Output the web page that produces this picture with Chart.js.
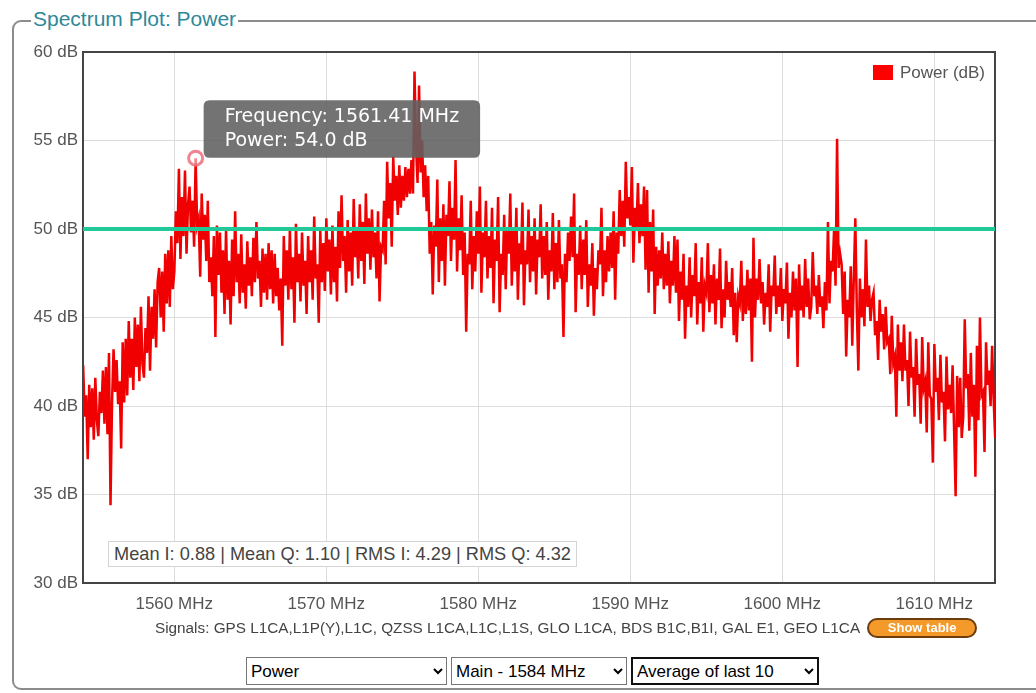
<!DOCTYPE html>
<html lang="en">
<head>
    <meta charset="UTF-8">
    <title>Spectrum Plot: Power</title>
    <style>
        body {
            margin: 0;
            background: #fff;
            font-family: "Liberation Sans", Arial, sans-serif;
            width: 1036px;
            height: 693px;
            overflow: hidden;
            position: relative;
        }

        .frame {
            position: absolute;
            left: 12px;
            top: 20px;
            width: 1060px;
            height: 666px;
            border: 2px solid #8c8c8c;
            border-radius: 9px;
        }

        .frame-title {
            position: absolute;
            left: 31px;
            top: 7px;
            padding: 0 2px;
            background: #fff;
            color: #2f8898;
            font-size: 21px;
        }

        #chart-box {
            position: absolute;
            left: 0;
            top: 0;
            width: 1010px;
            height: 620px;
        }

        .stats {
            position: absolute;
            left: 108px;
            top: 541px;
            height: 24px;
            line-height: 24px;
            padding: 0 5px;
            border: 1px solid #d4d4d4;
            background: #fff;
            color: #444;
            font-size: 18.2px;
        }

        .signals {
            position: absolute;
            left: 155px;
            top: 618px;
            color: #444;
            font-size: 15.3px;
            white-space: nowrap;
            display: flex;
            align-items: center;
        }

        .show-table {
            margin-left: 7px;
            width: 106px;
            text-align: center;
            background: #f39a2b;
            color: #fff;
            border: 2px solid #6b3d0c;
            border-radius: 10px;
            font-size: 13px;
            font-weight: bold;
            line-height: 16px;
        }

        .controls {
            position: absolute;
            left: 246px;
            top: 657px;
            display: flex;
            gap: 4px;
        }

        .controls select {
            height: 28px;
            font-family: "Liberation Sans", Arial, sans-serif;
            font-size: 17px;
            border: 1px solid #767676;
            background: #fff;
            color: #000;
        }
    </style>
</head>
<body>
<div class="frame"></div>
<div class="frame-title">Spectrum Plot: Power</div>
<div id="chart-box"><canvas id="spectrum"></canvas></div>
<div class="stats" id="stats"></div>
<div class="signals"><span id="signals"></span><span class="show-table">Show table</span></div>
<div class="controls">
    <select style="width:201px"><option>Power</option></select>
    <select style="width:176px"><option>Main - 1584 MHz</option></select>
    <select style="width:188px; border:2px solid #111"><option>Average of last 10</option></select>
</div>

<script src="https://cdn.jsdelivr.net/npm/chart.js"></script>
<script>
    // spectrum bins (MHz), 0.1 MHz apart
    const freqStart = 1554.01;
    const freqStep = 0.1;

    // power per bin in dB, one row per MHz
    const powerDb = [
        42.3, 39.4, 40.6, 37.0, 41.2, 38.8, 41.0, 38.1, 41.6, 39.2,
        38.3, 40.8, 39.6, 42.0, 39.0, 42.2, 38.4, 43.0, 34.4, 40.2,
        43.2, 40.8, 42.6, 40.1, 41.4, 37.6, 43.6, 40.2, 43.8, 40.6,
        44.8, 41.6, 43.8, 40.9, 45.0, 42.2, 44.6, 41.4, 45.6, 42.4,
        41.6, 44.4, 43.0, 46.2, 42.0, 45.6, 43.8, 46.6, 43.3, 47.0,
        47.8, 45.0, 47.6, 44.2, 48.6, 45.8, 48.8, 45.6, 49.6, 46.6,
        47.6, 51.0, 49.2, 53.4, 48.3, 51.8, 49.6, 53.3, 48.6, 51.4,
        52.4, 49.8, 51.6, 49.0, 54.0, 50.2, 50.6, 47.3, 52.0, 49.4,
        50.8, 48.2, 51.6, 47.0, 48.4, 46.2, 49.6, 43.9, 50.2, 47.4,
        49.8, 46.4, 48.8, 45.2, 50.0, 46.0, 48.2, 44.6, 49.4, 46.2,
        51.0, 47.0, 48.6, 45.8, 49.7, 46.4, 48.0, 45.5, 49.3, 46.8,
        48.4, 46.2, 49.5, 47.0, 50.4, 47.2, 48.2, 45.6, 48.9, 46.4,
        48.6, 46.0, 49.2, 46.6, 48.8, 45.8, 48.6, 46.2, 47.8, 45.4,
        47.2, 43.4, 49.6, 46.8, 48.8, 46.0, 50.0, 46.6, 48.4, 44.7,
        50.3, 47.0, 48.6, 45.9, 49.8, 46.8, 48.2, 45.2, 49.6, 47.0,
        48.8, 46.0, 50.7, 47.2, 48.0, 44.7, 49.9, 47.0, 49.2, 46.5,
        50.6, 47.6, 49.4, 46.3, 50.2, 47.0, 49.0, 45.9, 51.0, 47.8,
        51.9, 48.2, 49.6, 46.4, 50.5, 47.6, 49.8, 46.8, 51.7, 48.4,
        50.0, 47.2, 51.4, 48.2, 50.4, 46.9, 52.0, 48.6, 50.6, 47.7,
        51.1, 48.4, 49.8, 47.2, 51.0, 45.9, 49.0, 48.8, 51.6, 48.0,
        53.8, 50.6, 52.6, 49.0, 54.1, 51.6, 53.0, 50.8, 53.6, 51.2,
        53.0, 51.6, 53.5, 51.8, 53.4, 52.0, 53.9, 52.0, 58.9, 54.6,
        52.6, 58.1, 53.2, 55.0, 51.8, 53.6, 51.0, 53.0, 48.6, 50.4,
        46.3, 50.2, 49.0, 52.8, 47.0, 50.6, 48.2, 51.4, 46.8, 50.8,
        49.6, 52.7, 48.2, 51.2, 49.4, 53.9, 47.6, 50.6, 48.8, 51.9,
        47.4, 49.8, 44.2, 48.6, 48.0, 51.6, 46.6, 49.6, 47.6, 51.0,
        48.6, 52.4, 46.4, 49.8, 48.4, 51.6, 47.2, 49.6, 47.8, 51.2,
        45.8, 49.4, 48.2, 51.8, 45.3, 48.6, 47.4, 50.8, 46.6, 50.0,
        48.6, 52.0, 46.8, 50.0, 47.6, 51.2, 46.0, 49.2, 48.0, 51.5,
        45.7, 48.8, 48.0, 51.1, 47.0, 49.6, 47.6, 50.6, 46.3, 49.4,
        48.4, 51.4, 47.2, 49.6, 47.4, 50.4, 46.0, 48.8, 47.6, 50.9,
        46.6, 49.2, 47.0, 50.5, 47.2, 48.0, 43.9, 48.6, 47.0, 49.8,
        48.2, 50.7, 48.4, 52.0, 45.3, 48.6, 47.4, 50.2, 46.6, 49.4,
        47.4, 50.5, 45.6, 48.0, 46.8, 49.2, 45.1, 47.8, 46.6, 48.8,
        48.0, 51.2, 46.2, 48.8, 47.0, 49.6, 47.6, 49.8, 47.8, 51.0,
        46.0, 49.8, 48.6, 52.2, 49.6, 51.6, 49.0, 53.8, 50.6, 51.8,
        50.2, 53.5, 48.1, 51.2, 50.0, 52.6, 49.2, 51.4, 49.6, 52.4,
        47.7, 52.2, 46.4, 50.4, 47.6, 51.1, 45.2, 49.0, 46.8, 48.8,
        47.2, 49.8, 46.6, 48.6, 46.8, 49.3, 45.8, 48.2, 46.8, 49.6,
        46.4, 49.4, 44.8, 47.6, 46.0, 48.6, 43.8, 46.8, 45.6, 48.4,
        45.0, 47.4, 46.2, 49.2, 44.6, 47.0, 45.8, 48.4, 44.2, 46.8,
        46.4, 49.2, 45.3, 47.4, 45.8, 48.0, 44.6, 47.2, 46.0, 48.9,
        44.4, 46.6, 45.0, 48.2, 46.0, 47.0, 45.6, 47.8, 44.0, 46.4,
        43.6, 46.2, 45.8, 48.2, 44.8, 46.8, 45.2, 47.7, 45.4, 47.2,
        42.5, 49.5, 45.0, 47.2, 46.0, 48.3, 45.8, 47.0, 44.6, 46.4,
        45.6, 48.0, 44.2, 46.8, 46.2, 48.5, 45.2, 46.8, 45.6, 47.8,
        44.8, 46.6, 45.8, 48.1, 43.8, 46.4, 45.0, 47.6, 45.4, 47.2,
        42.2, 48.0, 45.4, 46.8, 45.0, 48.3, 45.6, 47.2, 44.9, 45.6,
        48.7, 46.2, 46.8, 45.2, 47.4, 45.6, 46.2, 44.4, 47.0, 45.4,
        50.4, 45.8, 48.2, 47.6, 49.9, 46.8, 55.1, 47.8, 48.6, 48.0,
        45.2, 47.6, 42.8, 46.0, 45.0, 47.9, 43.4, 47.2, 50.6, 45.4,
        42.0, 47.2, 45.0, 46.6, 44.5, 49.4, 45.6, 46.8, 44.8, 46.0,
        46.4, 44.0, 44.8, 42.6, 46.0, 44.2, 45.2, 43.2, 45.6, 43.6,
        43.8, 41.8, 45.1, 42.4, 42.8, 39.4, 44.6, 42.0, 43.6, 41.4,
        44.6, 42.0, 42.6, 40.0, 44.2, 41.6, 42.2, 39.4, 43.8, 41.2,
        41.8, 39.0, 43.9, 41.0, 41.4, 38.5, 43.6, 40.6, 40.4, 36.8,
        43.5, 40.8, 41.6, 39.2, 42.9, 40.2, 40.8, 38.0, 42.8, 39.8,
        41.2, 39.6, 42.3, 38.6, 34.9, 41.7, 38.8, 41.6, 38.2, 39.4,
        44.9, 41.0, 41.8, 38.6, 43.0, 39.4, 41.2, 36.0, 43.4, 39.2,
        45.0, 40.6, 40.8, 37.4, 43.6, 41.2, 42.0, 40.0, 43.4, 40.4,
        38.2
    ];

    const thresholdDb = 50;
    const freqMin = 1554;
    const freqMax = 1614;
    const xTickValues = [1560, 1570, 1580, 1590, 1600, 1610];
    const yTickValues = [30, 35, 40, 45, 50, 55, 60];
    const hoverIndex = 74; // 1561.41 MHz

    const stats = {meanI: 0.88, meanQ: 1.10, rmsI: 4.29, rmsQ: 4.32};
    const signals = "Signals: GPS L1CA,L1P(Y),L1C, QZSS L1CA,L1C,L1S, GLO L1CA, BDS B1C,B1I, GAL E1, GEO L1CA";

    document.getElementById('stats').textContent =
        `Mean I: ${stats.meanI.toFixed(2)} | Mean Q: ${stats.meanQ.toFixed(2)} | RMS I: ${stats.rmsI.toFixed(2)} | RMS Q: ${stats.rmsQ.toFixed(2)}`;
    document.getElementById('signals').textContent = signals;

    const points = powerDb.map((p, i) => ({x: +(freqStart + i * freqStep).toFixed(2), y: p}));

    const tickFont = {family: '"Liberation Sans", Arial, sans-serif', size: 17};

    // outline round the plot area + legend in the top right corner
    const plotDecor = {
        id: 'plotDecor',
        beforeDatasetsDraw(chart) {
            const {ctx, chartArea: a} = chart;
            ctx.save();
            ctx.strokeStyle = '#444';
            ctx.lineWidth = 2;
            ctx.strokeRect(a.left, a.top, a.right - a.left, a.bottom - a.top);
            ctx.restore();
        },
        afterDatasetsDraw(chart) {
            const {ctx, chartArea: a} = chart;
            const label = chart.data.datasets[0].label;
            ctx.save();
            ctx.font = '17px "Liberation Sans", Arial, sans-serif';
            const w = ctx.measureText(label).width;
            const tx = a.right - 10 - w;
            ctx.fillStyle = '#ff0000';
            ctx.fillRect(tx - 27, a.top + 13, 20, 15);
            ctx.fillStyle = '#555';
            ctx.textBaseline = 'middle';
            ctx.fillText(label, tx, a.top + 21);
            ctx.restore();
        }
    };

    Chart.Tooltip.positioners.besidePoint = function (elements) {
        if (!elements.length) return false;
        const el = elements[0].element;
        return {x: el.x + 14, y: el.y - 58, xAlign: 'left', yAlign: 'top'};
    };

    const chart = new Chart(document.getElementById('spectrum'), {
        type: 'line',
        data: {
            datasets: [{
                label: 'Power (dB)',
                data: points,
                borderColor: '#f00000',
                backgroundColor: '#ff0000',
                borderWidth: 2.5,
                pointRadius: 0,
                pointHoverRadius: 7,
                pointHoverBorderWidth: 3,
                pointHoverBorderColor: 'rgba(236, 112, 124, 0.85)',
                pointHoverBackgroundColor: 'rgba(255, 255, 255, 0.5)',
                tension: 0,
                order: 1
            }, {
                label: 'threshold',
                data: [{x: freqMin, y: thresholdDb}, {x: freqMax, y: thresholdDb}],
                borderColor: '#20c997',
                borderWidth: 4,
                pointRadius: 0,
                pointHoverRadius: 0,
                order: 0
            }]
        },
        options: {
            responsive: true,
            maintainAspectRatio: false,
            animation: false,
            events: [],
            layout: {padding: {left: 0, top: 52, right: 15, bottom: 7}},
            scales: {
                x: {
                    type: 'linear',
                    min: freqMin,
                    max: freqMax,
                    afterBuildTicks: s => { s.ticks = xTickValues.map(v => ({value: v})); },
                    afterFit: s => { s.height = 30; },
                    grid: {color: '#dcdcdc', drawTicks: false},
                    border: {display: false},
                    ticks: {
                        padding: 11,
                        color: '#555',
                        font: tickFont,
                        callback: v => v + ' MHz'
                    }
                },
                y: {
                    min: 30,
                    max: 60,
                    afterBuildTicks: s => { s.ticks = yTickValues.map(v => ({value: v})); },
                    afterFit: s => { s.width = 83; },
                    grid: {color: '#dcdcdc', drawTicks: false},
                    border: {display: false},
                    ticks: {
                        padding: 5,
                        color: '#555',
                        font: tickFont,
                        callback: v => v + ' dB'
                    }
                }
            },
            plugins: {
                legend: {display: false},
                tooltip: {
                    position: 'besidePoint',
                    filter: item => item.datasetIndex === 0,
                    backgroundColor: 'rgba(96, 96, 96, 0.88)',
                    titleColor: '#fff',
                    bodyColor: '#fff',
                    titleFont: {family: '"DejaVu Sans", sans-serif', size: 19, weight: 'normal'},
                    bodyFont: {family: '"DejaVu Sans", sans-serif', size: 19},
                    titleMarginBottom: 2,
                    padding: {top: 5, bottom: 5, left: 21, right: 21},
                    caretSize: 0,
                    caretPadding: 0,
                    cornerRadius: 6,
                    displayColors: false,
                    callbacks: {
                        title: items => `Frequency: ${items[0].parsed.x.toFixed(2)} MHz`,
                        label: item => `Power: ${item.parsed.y.toFixed(1)} dB`
                    }
                }
            }
        },
        plugins: [plotDecor]
    });

    // show the hovered bin as in the screenshot
    const active = [{datasetIndex: 0, index: hoverIndex}];
    chart.setActiveElements(active);
    chart.tooltip.setActiveElements(active, {x: 0, y: 0});
    chart.update('none');
</script>
</body>
</html>
